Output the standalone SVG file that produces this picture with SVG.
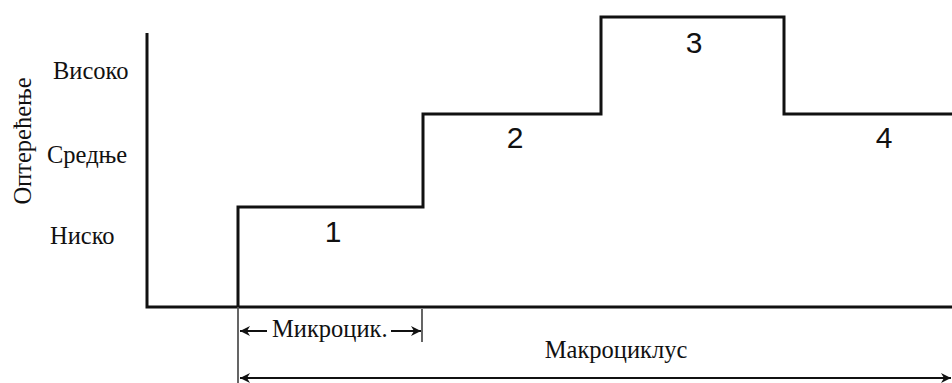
<svg xmlns="http://www.w3.org/2000/svg" width="952" height="383" viewBox="0 0 952 383">
  <style>
    .axis { fill: none; stroke: #111; stroke-width: 3; }
    .step { fill: none; stroke: #111; stroke-width: 3; stroke-linejoin: miter; }
    .guide { fill: none; stroke: #555; stroke-width: 1.8; }
    .dim { fill: none; stroke: #111; stroke-width: 2; }
    .lbl { font-family: "Liberation Serif", "Times New Roman", serif; font-size: 24.5px; fill: #111; }
    .num { font-family: "Liberation Sans", Arial, sans-serif; font-size: 30px; fill: #111; text-anchor: middle; }
  </style>
  <defs>
    <marker id="arr" viewBox="0 0 10 10" refX="10" refY="5" markerWidth="14" markerHeight="10" markerUnits="userSpaceOnUse" orient="auto-start-reverse">
      <path d="M0,0 L10,5 L0,10 L3,5 Z" fill="#111"/>
    </marker>
  </defs>

  <rect width="952" height="383" fill="#fff"/>

  <!-- axes -->
  <g id="axes">
    <path class="axis" d="M147,33 V307 H952"/>
  </g>

  <!-- load profile -->
  <g id="profile">
    <path class="step" d="M238,307 V207 H423 V114 H601 V17 H784 V114 H952"/>
  </g>

  <!-- level labels -->
  <g id="levels">
    <text class="lbl" x="53" y="79">Високо</text>
    <text class="lbl" x="47" y="163">Средње</text>
    <text class="lbl" x="50" y="244">Ниско</text>
    <text class="lbl" transform="translate(31,141) rotate(-90)" text-anchor="middle">Оптерећење</text>
  </g>

  <!-- phase numbers -->
  <g id="phases">
    <text class="num" x="333" y="242">1</text>
    <text class="num" x="515" y="148">2</text>
    <text class="num" x="694" y="53">3</text>
    <text class="num" x="884" y="148">4</text>
  </g>

  <!-- duration dimensions -->
  <g id="connectors">
    <path class="guide" d="M238,307 V383"/>
    <path class="guide" d="M422,309 V342"/>
    <path class="dim" d="M267,331 H240" marker-end="url(#arr)"/>
    <path class="dim" d="M391,331 H421" marker-end="url(#arr)"/>
    <path class="dim" d="M240,378 H951" marker-start="url(#arr)" marker-end="url(#arr)"/>
  </g>
  <g id="labels">
    <text class="lbl" x="272" y="337">Микроцик.</text>
    <text class="lbl" x="616" y="358" text-anchor="middle">Макроциклус</text>
  </g>
</svg>
